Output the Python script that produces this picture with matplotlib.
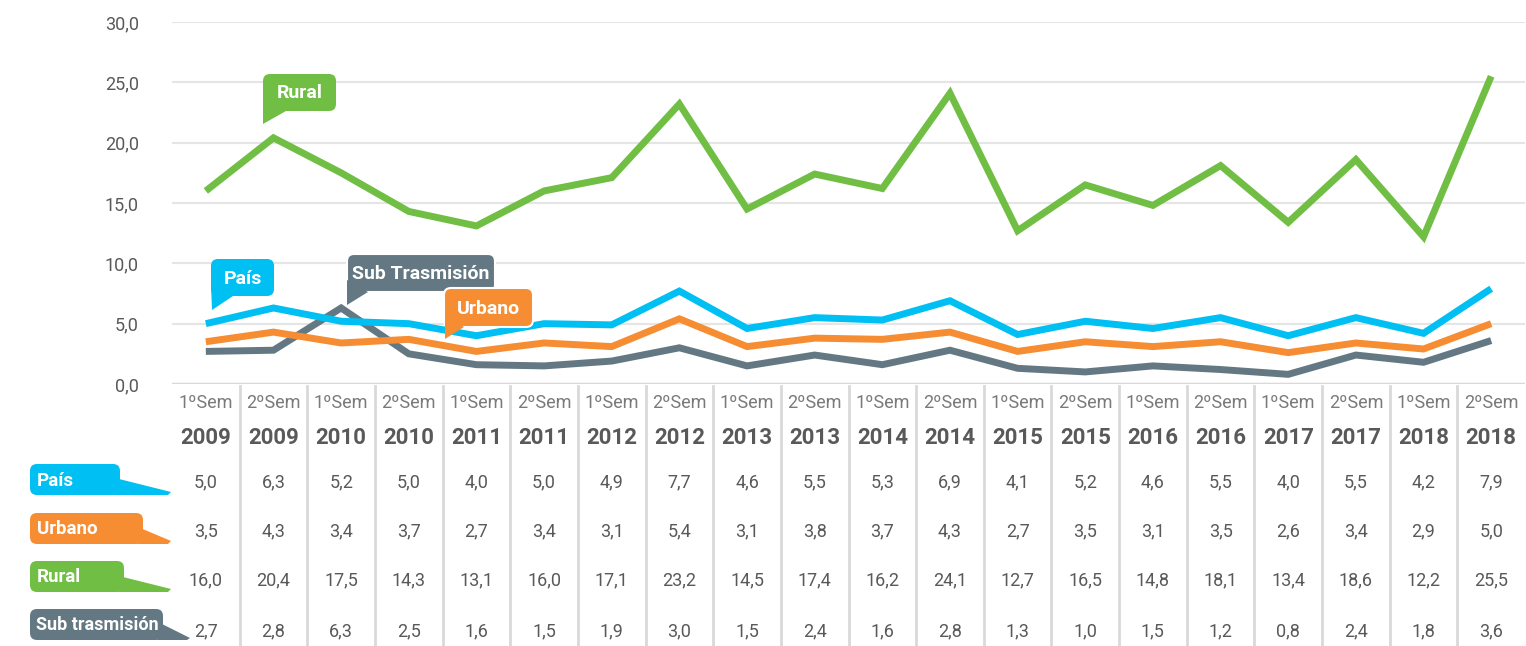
import matplotlib.pyplot as plt
from matplotlib.patches import FancyBboxPatch, Polygon
from matplotlib.transforms import blended_transform_factory

plt.rcParams['font.family'] = ['Roboto', 'DejaVu Sans']

semestres = ['1ºSem', '2ºSem'] * 10
anios = [str(a) for a in range(2009, 2019) for _ in range(2)]

pais = [5.0, 6.3, 5.2, 5.0, 4.0, 5.0, 4.9, 7.7, 4.6, 5.5,
        5.3, 6.9, 4.1, 5.2, 4.6, 5.5, 4.0, 5.5, 4.2, 7.9]
urbano = [3.5, 4.3, 3.4, 3.7, 2.7, 3.4, 3.1, 5.4, 3.1, 3.8,
          3.7, 4.3, 2.7, 3.5, 3.1, 3.5, 2.6, 3.4, 2.9, 5.0]
rural = [16.0, 20.4, 17.5, 14.3, 13.1, 16.0, 17.1, 23.2, 14.5, 17.4,
         16.2, 24.1, 12.7, 16.5, 14.8, 18.1, 13.4, 18.6, 12.2, 25.5]
sub_trasmision = [2.7, 2.8, 6.3, 2.5, 1.6, 1.5, 1.9, 3.0, 1.5, 2.4,
                  1.6, 2.8, 1.3, 1.0, 1.5, 1.2, 0.8, 2.4, 1.8, 3.6]

C_PAIS = '#00bff2'
C_URB = '#f68d33'
C_RUR = '#70bf44'
C_SUB = '#647884'
TXT = '#595959'

W, H = 1526, 646
fig = plt.figure(figsize=(W / 100, H / 100), dpi=100)

def fy(ypix):
    return 1 - ypix / H

ax = fig.add_axes([172 / W, fy(384), (1525 - 172) / W, (384 - 22) / H])
x = list(range(len(pais)))

ax.set_xlim(-0.5, len(x) - 0.5)
ax.set_ylim(0, 30)
ax.set_yticks([0, 5, 10, 15, 20, 25, 30])
ax.set_yticklabels([f'{v:.1f}'.replace('.', ',') for v in range(0, 31, 5)],
                   fontsize=13, color=TXT)
ax.tick_params(axis='y', length=0, pad=24)
ax.set_xticks([])
for s in ax.spines.values():
    s.set_visible(False)
ax.grid(axis='y', color='#e5e5e5', lw=1.5)
ax.set_axisbelow(True)
ax.axhline(0, color='#d9d9d9', lw=2.5, zorder=1)

estilo = dict(lw=5, solid_joinstyle='miter', solid_capstyle='butt', clip_on=False)
ax.plot(x, rural, color=C_RUR, zorder=3, **estilo)
ax.plot(x, sub_trasmision, color=C_SUB, zorder=3, **estilo)
ax.plot(x, urbano, color=C_URB, zorder=4, **estilo)
ax.plot(x, pais, color=C_PAIS, zorder=4, **estilo)

# tabla de datos bajo el grafico
tr = blended_transform_factory(ax.transData, fig.transFigure)
for i in x:
    ax.text(i, fy(403), semestres[i], transform=tr, ha='center', va='center',
            fontsize=13, color='#7a7a7a', clip_on=False)
    ax.text(i, fy(438), anios[i], transform=tr, ha='center', va='center',
            fontsize=16, fontweight='bold', color=TXT, clip_on=False)
    for serie, yp in [(pais, 482), (urbano, 531), (rural, 580), (sub_trasmision, 631)]:
        ax.text(i, fy(yp), f'{serie[i]:.1f}'.replace('.', ','), transform=tr,
                ha='center', va='center', fontsize=13, color=TXT, clip_on=False)
for i in x[:-1]:
    ax.plot([i + 0.5, i + 0.5], [fy(386), 0], transform=tr, color='#d9d9d9',
            lw=2, clip_on=False)

# capa en pixeles para las etiquetas tipo globo
ov = fig.add_axes([0, 0, 1, 1], zorder=5)
ov.set_xlim(0, W)
ov.set_ylim(H, 0)
ov.axis('off')

def globo(x0, y0, x1, y1, cola, color, texto, size=13.5, edge=None, tx=None):
    ov.add_patch(FancyBboxPatch((x0, y0), x1 - x0, y1 - y0,
                                boxstyle='round,pad=0,rounding_size=7',
                                fc=color, ec=edge or color, lw=1.5 if edge else 0))
    ov.add_patch(Polygon(cola, closed=True, fc=color, ec='none'))
    if tx is None:
        ov.text((x0 + x1) / 2, (y0 + y1) / 2 + 1, texto, ha='center', va='center',
                color='white', fontsize=size, fontweight='bold')
    else:
        ov.text(tx, (y0 + y1) / 2 + 1, texto, ha='left', va='center',
                color='white', fontsize=size, fontweight='bold')

# globos en el grafico
globo(263, 74, 336, 111, [(263, 100), (263, 124), (286, 111)], C_RUR, 'Rural', size=14)
globo(211, 259, 274, 296, [(211, 285), (212, 310), (233, 296)], C_PAIS, 'País', size=14)
globo(347, 254, 495, 292, [(347, 280), (347, 305), (368, 292)], C_SUB, 'Sub Trasmisión',
      size=14, edge='white')
globo(444, 288, 533, 327, [(445, 315), (445, 339), (464, 327)], C_URB, 'Urbano',
      size=14, edge='white')

# globos de la tabla
globo(30, 464, 120, 495, [(115, 478), (171, 492), (168, 495), (115, 495)], C_PAIS, 'País', tx=37)
globo(30, 513, 143, 544, [(138, 527), (171, 541), (168, 544), (138, 544)], C_URB, 'Urbano', tx=37)
globo(30, 561, 124, 592, [(119, 576), (171, 589), (168, 592), (119, 592)], C_RUR, 'Rural', tx=37)
globo(30, 609, 163, 640, [(158, 622), (190, 638), (187, 640), (158, 640)], C_SUB, 'Sub trasmisión',
      size=13, tx=36)

fig.savefig('out.png', dpi=100)
